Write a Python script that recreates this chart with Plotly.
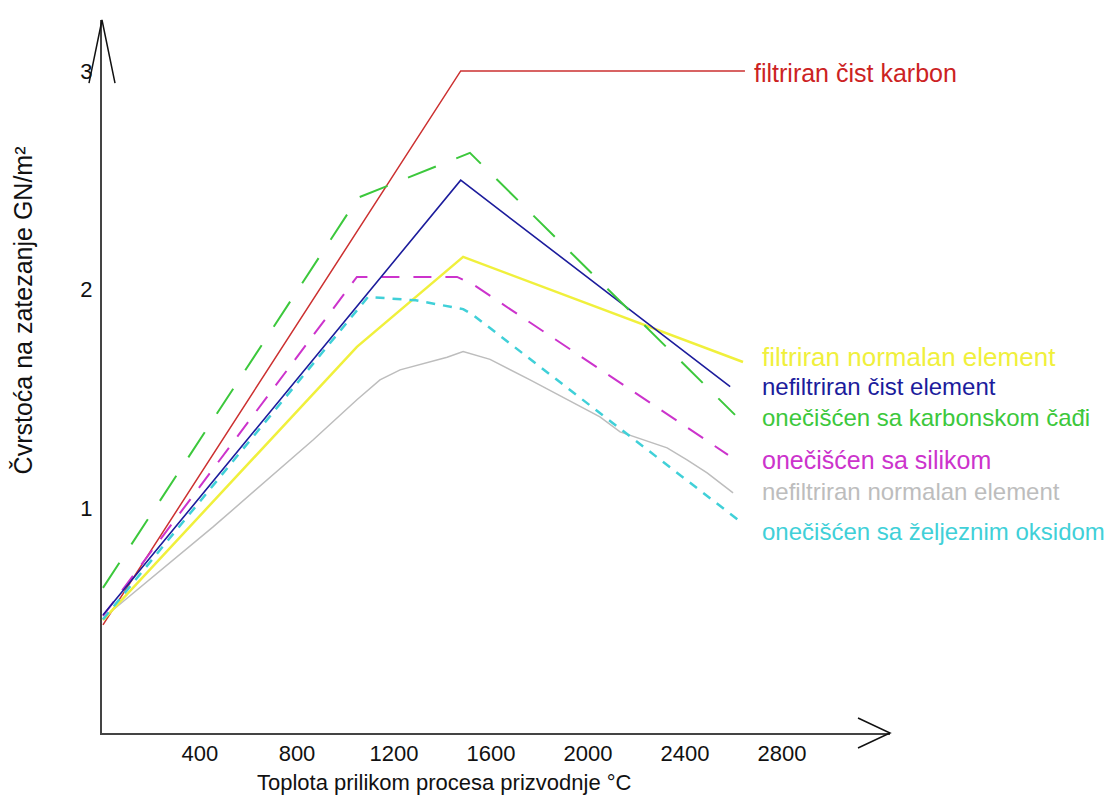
import plotly.graph_objects as go

# ---- data ----
x_ticks = [400, 800, 1200, 1600, 2000, 2400, 2800]
y_ticks = [1, 2, 3]

red_x = [0, 1475, 2647]
red_y = [0.465, 3.0, 3.0]

blue_x = [0, 1475, 2586]
blue_y = [0.51, 2.50, 1.555]

green_x = [0, 1052, 1513, 2606]
green_y = [0.634, 2.42, 2.625, 1.426]

yellow_x = [0, 1047, 1485, 2639]
yellow_y = [0.487, 1.737, 2.149, 1.668]

magenta_x = [0, 1047, 1460, 1530, 2577]
magenta_y = [0.506, 2.057, 2.057, 2.02, 1.243]

cyan_x = [0, 1093, 1290, 1420, 1485, 1526, 2619]
cyan_y = [0.49, 1.966, 1.95, 1.925, 1.91, 1.883, 0.945]

gray_x = [0, 41, 454, 866, 1047, 1142, 1225, 1348, 1419, 1485, 1596, 1761,
          2049, 2132, 2227, 2326, 2408, 2491, 2598]
gray_y = [0.49, 0.533, 0.913, 1.311, 1.495, 1.586, 1.632, 1.668, 1.69, 1.716,
          1.68, 1.586, 1.417, 1.348, 1.311, 1.275, 1.22, 1.16, 1.069]

labels = [
    "filtriran čist karbon",
    "filtriran normalan element",
    "nefiltriran čist element",
    "onečišćen sa karbonskom čađi",
    "onečišćen sa silikom",
    "nefiltriran normalan element",
    "onečišćen sa željeznim oksidom",
]
x_title = "Toplota prilikom procesa prizvodnje °C"
y_title = "Čvrstoća na zatezanje GN/m²"

FONT = "Liberation Sans, Arial, sans-serif"

series = [
    (red_x, red_y, "#cc3030", 1.5, "solid"),
    (gray_x, gray_y, "#bdbdbd", 1.5, "solid"),
    (yellow_x, yellow_y, "#f0f03c", 2.5, "solid"),
    (cyan_x, cyan_y, "#40d0d8", 2.5, "9px,8px"),
    (magenta_x, magenta_y, "#cc33cc", 2, "18px,14px"),
    (blue_x, blue_y, "#1c1c9c", 1.6, "solid"),
    (green_x, green_y, "#3cc83c", 2, "30px,22px"),
]

fig = go.Figure()
for xs, ys, col, w, dash in series:
    fig.add_trace(go.Scatter(x=xs, y=ys, mode="lines",
                             line=dict(color=col, width=w, dash=dash),
                             showlegend=False, hoverinfo="skip"))

# line labels (left edge x, centre y, colour, size)
label_pos = [
    (2676, 2.99, "#cc2222", 25),
    (2709, 1.691, "#f0f03c", 26),
    (2709, 1.558, "#1c1c9c", 24),
    (2709, 1.412, "#3cc83c", 24),
    (2709, 1.220, "#cc33cc", 25),
    (2709, 1.073, "#bdbdbd", 24),
    (2709, 0.890, "#40d0d8", 24),
]
for (lx, ly, col, sz), txt in zip(label_pos, labels):
    fig.add_annotation(x=lx, y=ly, xref="x", yref="y", text=txt, showarrow=False,
                       xanchor="left", yanchor="middle",
                       font=dict(family=FONT, size=sz, color=col))

# axis titles
fig.add_annotation(x=0.435, y=-0.07, xref="paper", yref="paper", text=x_title,
                   showarrow=False, xanchor="center", yanchor="middle",
                   font=dict(family=FONT, size=22, color="#111"))
fig.add_annotation(x=-0.1, y=0.593, xref="paper", yref="paper", text=y_title,
                   showarrow=False, xanchor="center", yanchor="middle", textangle=-90,
                   font=dict(family=FONT, size=25, color="#111"))

# axis arrows
fig.add_shape(type="path", xref="paper", yref="paper",
              path="M -0.0165 0.9116 L 0 1 L 0.0165 0.9116",
              line=dict(color="#111", width=1.5))
fig.add_shape(type="path", xref="paper", yref="paper",
              path="M 0.9594 0.021 L 1 0 L 0.9594 -0.021",
              line=dict(color="#111", width=1.5))

TICKFONT = dict(family=FONT, size=22, color="#111")

fig.update_layout(
    width=1105, height=792,
    margin=dict(l=94, r=223, t=12, b=67),
    paper_bgcolor="white", plot_bgcolor="white",
    font=dict(family=FONT, size=22, color="#111"),
)
fig.update_xaxes(range=[-4, 3245], tickmode="array", tickvals=x_ticks,
                 ticktext=[str(v) for v in x_ticks],
                 showgrid=False, zeroline=False, showline=True, linecolor="#444",
                 linewidth=2, ticks="", ticklabelstandoff=0, tickfont=TICKFONT)
fig.update_yaxes(range=[-0.03, 3.233], tickmode="array", tickvals=y_ticks,
                 ticktext=[str(v) for v in y_ticks],
                 showgrid=False, zeroline=False, showline=True, linecolor="#444",
                 linewidth=2, ticks="", ticklabelstandoff=3, tickfont=TICKFONT)

fig.write_html("out.html")
